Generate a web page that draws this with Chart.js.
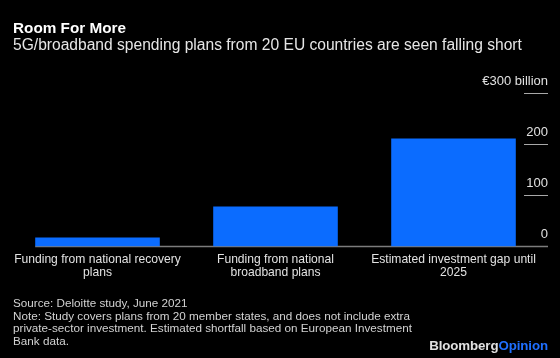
<!DOCTYPE html>
<html>
<head>
<meta charset="utf-8">
<script src="https://cdn.jsdelivr.net/npm/chart.js@4"></script>
<style>
  html, body { margin: 0; padding: 0; background: #000; }
  #wrap { position: relative; width: 560px; height: 358px; background: #000; overflow: hidden;
          font-family: "Liberation Sans", Arial, Helvetica, sans-serif; }
  #chart-box { position: absolute; left: 0; top: 0; width: 560px; height: 358px; }
  .t { position: absolute; white-space: nowrap; }
  #title { left: 13px; top: 19.5px; font-size: 15.3px; line-height: 15.3px; font-weight: bold; color: #fff; }
  #subtitle { left: 13px; top: 37px; font-size: 15.6px; line-height: 15.6px; color: #e6e6e6; }
  #footer { left: 13px; top: 297px; font-size: 11.7px; line-height: 12.6px; color: #d2d2d2; }
  #logo { right: 12px; top: 339px; font-size: 13.3px; line-height: 13.3px; font-weight: bold; color: #e0e0e0; letter-spacing: -0.1px; }
  #logo span { color: #1f6fff; }
</style>
</head>
<body>
<div id="wrap">
  <div id="chart-box"><canvas id="c"></canvas></div>
  <div class="t" id="title">Room For More</div>
  <div class="t" id="subtitle">5G/broadband spending plans from 20 EU countries are seen falling short</div>
  <div class="t" id="footer">Source: Deloitte study, June 2021<br>Note: Study covers plans from 20 member states, and does not include extra<br>private-sector investment. Estimated shortfall based on European Investment<br>Bank data.</div>
  <div class="t" id="logo">Bloomberg<span>Opinion</span></div>
</div>
<script>
// ---- data ----
const categories = [
  ["Funding from national recovery", "plans"],
  ["Funding from national", "broadband plans"],
  ["Estimated investment gap until", "2025"]
];
const values = [17.5, 78, 211];
const yTicks = [0, 100, 200, 300];
const yTickLabels = ["0", "100", "200", "€300 billion"];

const FONT = '"Liberation Sans", Arial, Helvetica, sans-serif';

const axisDeco = {
  id: 'axisDeco',
  beforeDatasetsDraw(chart) {
    const ctx = chart.ctx;
    const y = chart.scales.y;
    const meta = chart.getDatasetMeta(0);
    const first = meta.data[0];
    const x0 = first.x - first.width / 2;
    const xR = chart.chartArea.right + 5.5;
    const tickLen = 24;
    ctx.save();
    ctx.font = '13px ' + FONT;
    ctx.textAlign = 'right';
    ctx.textBaseline = 'middle';
    yTicks.forEach((v, i) => {
      const py = Math.round(y.getPixelForValue(v)) + 0.5;
      ctx.beginPath();
      if (v === 0) {
        ctx.strokeStyle = '#7c7c7c';
        ctx.lineWidth = 1.5;
        ctx.moveTo(x0, py);
      } else {
        ctx.strokeStyle = '#a8a8a8';
        ctx.lineWidth = 1;
        ctx.moveTo(xR - tickLen, py);
      }
      ctx.lineTo(xR, py);
      ctx.stroke();
      ctx.fillStyle = '#e0e0e0';
      ctx.fillText(yTickLabels[i], xR, py - 12);
    });
    ctx.restore();
  }
};

new Chart(document.getElementById('c'), {
  type: 'bar',
  data: {
    labels: categories,
    datasets: [{
      data: values,
      backgroundColor: '#0b6cff',
      borderWidth: 0,
      barPercentage: 0.70,
      categoryPercentage: 1.0
    }]
  },
  options: {
    responsive: true,
    maintainAspectRatio: false,
    animation: false,
    devicePixelRatio: 1,
    layout: { padding: { left: 8.5, right: 17.5, top: 93, bottom: 72.2 } },
    plugins: { legend: { display: false }, tooltip: { enabled: false }, title: { display: false } },
    scales: {
      x: {
        display: true,
        offset: true,
        grid: { display: false, drawTicks: false },
        border: { display: false },
        ticks: {
          color: '#e2e2e2',
          font: { family: FONT, size: 12.1, lineHeight: 1.1 },
          padding: 6.4,
          maxRotation: 0,
          autoSkip: false
        }
      },
      y: {
        display: false,
        min: 0,
        max: 300
      }
    }
  },
  plugins: [axisDeco]
});
</script>
</body>
</html>
